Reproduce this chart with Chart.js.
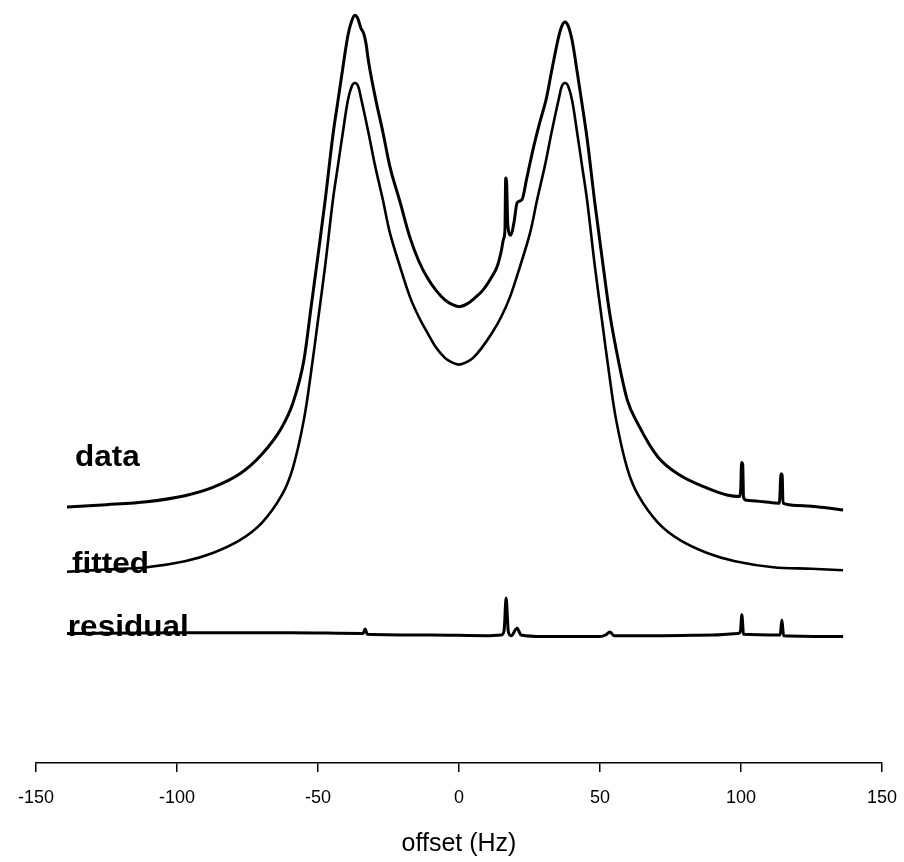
<!DOCTYPE html>
<html>
<head>
<meta charset="utf-8">
<script src="https://cdn.jsdelivr.net/npm/chart.js@4/dist/chart.umd.min.js"></script>
<style>
  html, body { margin: 0; padding: 0; background: #fff; }
  #wrap { width: 904px; height: 862px; position: relative; }
</style>
</head>
<body>
<div id="wrap"><canvas id="c" width="904" height="862"></canvas></div>
<script>
// ---- values (x: offset in Hz, y: arbitrary intensity units) ----
const xTicks = [-150, -100, -50, 0, 50, 100, 150];
const seriesNames = ['data', 'fitted', 'residual'];

const dataX = [-139, -125, -110.7, -97.2, -87.3, -77.7, -69.9, -62.8, -58.9, -55.0, -52.5, -50.0, -47.5, -44.7, -42.9, -41.2, -39.4, -38.0, -36.9, -35.8, -34.8, -33.8, -33.0, -32.1, -29.8, -27.0, -24.5, -20.9, -17.4, -14.2, -11.0, -8.0, -5.0, -2.5, 0, 3.0, 5.7, 8.5, 11.7, 13.5, 15.0, 15.8, 16.3, 16.55, 16.85, 17.3, 18.4, 19.5, 20.6, 22.3, 24, 26.2, 28.6, 31.0, 32.8, 35.5, 36.5, 37.6, 38.7, 40.1, 41.9, 43.6, 45.4, 48.2, 50.7, 53.2, 55.7, 59.6, 63.5, 70.6, 78.4, 88.0, 95, 99.4, 99.9, 100.2, 100.6, 100.9, 102, 108, 113.6, 114.2, 114.6, 114.9, 120, 125, 130, 136.2];
const dataY = [34.0, 34.3, 34.7, 35.5, 36.6, 38.4, 41.0, 44.6, 47.8, 53.5, 60.4, 67.4, 74.6, 83.4, 88.0, 92.3, 96.6, 98.6, 99.3, 98.8, 97.6, 96.9, 95.6, 93.2, 88.6, 83.8, 79.2, 74.5, 69.8, 66.6, 64.3, 62.7, 61.5, 60.9, 60.6, 61.0, 61.8, 62.8, 64.6, 65.9, 68.0, 69.6, 70.8, 77.7, 77.3, 71.5, 70.1, 71.8, 74.4, 74.8, 77.6, 81.4, 85.0, 88.3, 91.8, 96.7, 97.9, 98.4, 97.9, 96.0, 91.8, 87.6, 83.0, 74.3, 67.2, 60.3, 55.0, 48.3, 45.0, 40.6, 38.2, 36.5, 35.6, 35.4, 36.3, 39.9, 39.7, 35.3, 34.9, 34.7, 34.5, 38.4, 38.2, 34.5, 34.2, 34.1, 33.9, 33.6];

const fittedX = [-139, -125, -110.7, -97.2, -87.3, -77.7, -69.9, -62.8, -58.9, -55.0, -52.5, -50.0, -47.5, -44.7, -42.9, -41.2, -39.4, -38.0, -36.9, -35.8, -34.8, -32.1, -29.8, -27.0, -24.5, -20.9, -17.4, -14.2, -11.0, -8.0, -5.0, -3.0, 0, 3.0, 5.0, 8.0, 11.7, 14.9, 18.1, 21.6, 25.2, 27.7, 30.5, 32.8, 35.5, 36.5, 37.6, 38.7, 40.1, 41.9, 43.6, 45.4, 48.2, 50.7, 53.2, 55.7, 59.6, 63.5, 70.6, 78.4, 88.0, 97.9, 111.4, 125, 136.2];
const fittedY = [25.4, 25.7, 26.0, 26.8, 27.9, 29.6, 31.9, 35.6, 39.2, 45.6, 51.8, 58.8, 65.9, 74.8, 79.4, 83.7, 88.0, 89.9, 90.3, 89.9, 88.4, 83.7, 79.4, 74.8, 70.4, 65.9, 61.9, 59.2, 57.0, 55.1, 53.8, 53.3, 52.9, 53.3, 53.8, 55.1, 57.1, 59.2, 61.9, 65.9, 70.4, 74.8, 79.4, 83.7, 88.4, 89.9, 90.3, 89.9, 88.0, 83.7, 79.4, 74.8, 65.9, 58.8, 51.8, 45.6, 39.2, 35.6, 31.9, 29.6, 27.9, 26.8, 26.0, 25.8, 25.6];

const residualX = [-139, -100, -60, -34, -33.3, -32.5, -10, 10, 15, 16.0, 16.7, 17.5, 18.5, 20.6, 22, 30, 50, 52, 53.5, 55, 70, 90, 99, 99.8, 100.3, 100.9, 113.9, 114.5, 115.1, 136.2];
const residualY = [17.2, 17.3, 17.3, 17.2, 17.8, 17.1, 17.0, 16.9, 17.0, 17.6, 21.9, 17.4, 16.9, 17.9, 17.0, 16.8, 16.8, 17.0, 17.4, 16.9, 16.9, 17.0, 17.2, 17.5, 19.7, 17.1, 17.0, 19.0, 16.9, 16.8];

// label anchor positions (x in Hz, y in intensity units)
const labelX = [-136.2, -137.2, -138.7];
const labelY = [40.5, 26.3, 17.9];

function pts(xs, ys) { return xs.map((x, i) => ({ x: x, y: ys[i] })); }

const FONT = "'Liberation Sans', Arial, Helvetica, sans-serif";

const labelPlugin = {
  id: 'seriesLabels',
  afterDatasetsDraw(chart) {
    const ctx = chart.ctx;
    const xs = chart.scales.x, ys = chart.scales.y;
    ctx.save();
    ctx.fillStyle = '#000';
    ctx.font = 'bold 30px ' + FONT;
    ctx.textAlign = 'left';
    ctx.textBaseline = 'middle';
    seriesNames.forEach((name, i) => {
      const px = xs.getPixelForValue(labelX[i]);
      const py = ys.getPixelForValue(labelY[i]);
      ctx.save();
      ctx.translate(px, py);
      ctx.scale(1.05, 1);
      ctx.fillText(name, 0, 0);
      ctx.restore();
    });
    ctx.restore();
  }
};

const common = {
  borderColor: '#000',
  backgroundColor: '#000',
  pointRadius: 0,
  fill: false
};

new Chart(document.getElementById('c'), {
  type: 'line',
  data: {
    datasets: [
      Object.assign({ label: seriesNames[0], data: pts(dataX, dataY), borderWidth: 3, cubicInterpolationMode: 'monotone' }, common),
      Object.assign({ label: seriesNames[1], data: pts(fittedX, fittedY), borderWidth: 2.6, tension: 0.35 }, common),
      Object.assign({ label: seriesNames[2], data: pts(residualX, residualY), borderWidth: 3, cubicInterpolationMode: 'monotone' }, common)
    ]
  },
  options: {
    responsive: false,
    animation: false,
    devicePixelRatio: 1,
    layout: { padding: { left: 36, right: 22, top: 10, bottom: 0 } },
    plugins: { legend: { display: false }, tooltip: { enabled: false } },
    scales: {
      x: {
        type: 'linear',
        min: -150, max: 150,
        afterBuildTicks: (s) => { s.ticks = xTicks.map(v => ({ value: v })); },
        afterFit: (s) => { s.height = 99; s.paddingLeft = 0; s.paddingRight = 0; },
        ticks: { color: '#000', font: { family: FONT, size: 18 }, padding: 15, maxRotation: 0, autoSkip: false },
        grid: { drawOnChartArea: false, drawTicks: true, tickLength: 9, color: '#000', lineWidth: 1.5 },
        border: { display: true, color: '#000', width: 1.5 },
        title: { display: true, text: 'offset (Hz)', color: '#000', font: { family: FONT, size: 25 }, padding: { top: 0, bottom: 3 } }
      },
      y: { display: false, min: 0, max: 100 }
    }
  },
  plugins: [labelPlugin]
});
</script>
</body>
</html>
